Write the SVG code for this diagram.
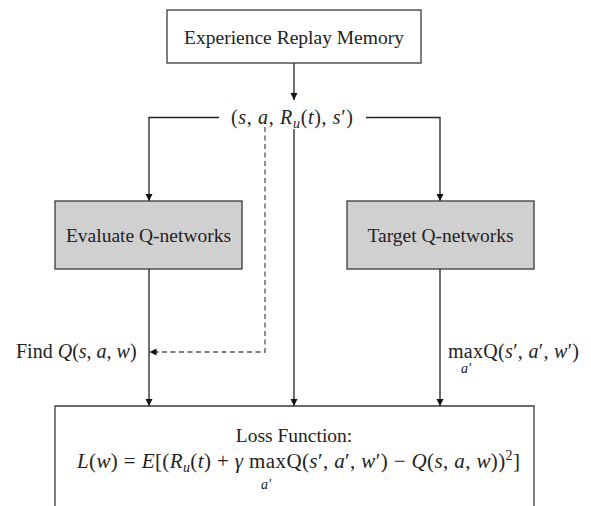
<svg xmlns="http://www.w3.org/2000/svg" width="591" height="506" viewBox="0 0 591 506">
<style>
.box{fill:#ffffff;stroke:#3a3a3a;stroke-width:1.3}
.gbox{fill:#d1d0d1;stroke:#3a3a3a;stroke-width:1.3}
.t{font-family:"Liberation Serif","Times New Roman",serif;font-size:19.5px;fill:#222}
.m{font-family:"Liberation Serif","Times New Roman",serif;font-size:20px;fill:#222}
.big{font-size:21px}
.i{font-style:italic}
.sub{font-size:14px}
.ln{fill:none;stroke:#222;stroke-width:1.3;marker-end:url(#ah)}
.dash{stroke-dasharray:5,3.5;stroke:#555}
</style>
<defs>
<marker id="ah" markerUnits="userSpaceOnUse" markerWidth="8" markerHeight="8" refX="7" refY="3.5" orient="auto">
<path d="M0,0 L7,3.5 L0,7 z" fill="#111"/>
</marker>
</defs>
<rect width="591" height="506" fill="#ffffff"/>
<g id="connectors">
<path class="ln" d="M294,63 V100"/>
<path class="ln" d="M219,117.5 H149 V201"/>
<path class="ln" d="M366,117.5 H440 V201"/>
<path class="ln" d="M294,129 V406"/>
<path class="ln dash" d="M265,127 V352 H149.5"/>
<path class="ln" d="M149,269 V406"/>
<path class="ln" d="M440,269 V406"/>
</g>
<g id="memory">
<rect class="box" x="167" y="10" width="254" height="53"/>
<text class="t" x="294" y="44" text-anchor="middle">Experience Replay Memory</text>
</g>
<g id="sample">
<text class="m" x="231" y="124" textLength="122" lengthAdjust="spacing">(<tspan class="i">s</tspan>, <tspan class="i">a</tspan>, <tspan class="i">R</tspan><tspan class="i sub" dy="4">u</tspan><tspan dy="-4">(</tspan><tspan class="i">t</tspan>), <tspan class="i">s</tspan>′)</text>
</g>
<g id="evaluate">
<rect class="gbox" x="55" y="201" width="187" height="68"/>
<text class="t" x="148.5" y="242" text-anchor="middle">Evaluate Q-networks</text>
</g>
<g id="target">
<rect class="gbox" x="347" y="201" width="187" height="68"/>
<text class="t" x="440.5" y="242" text-anchor="middle">Target Q-networks</text>
</g>
<g id="find-label">
<text class="m" x="16" y="358">Find <tspan class="i">Q</tspan>(<tspan class="i">s</tspan>, <tspan class="i">a</tspan>, <tspan class="i">w</tspan>)</text>
</g>
<g id="max-label">
<text class="m" x="448" y="358" textLength="131" lengthAdjust="spacing">maxQ(<tspan class="i">s</tspan>′, <tspan class="i">a</tspan>′, <tspan class="i">w</tspan>′)</text>
<text class="m i sub" x="461" y="373">a′</text>
</g>
<g id="loss">
<path class="box" d="M55,520 V406 H534 V520"/>
<text class="t" x="294" y="442" text-anchor="middle">Loss Function:</text>
<text class="m big" x="77" y="468" textLength="443" lengthAdjust="spacing"><tspan class="i">L</tspan>(<tspan class="i">w</tspan>) = <tspan class="i">E</tspan>[(<tspan class="i">R</tspan><tspan class="i sub" dy="4">u</tspan><tspan dy="-4">(</tspan><tspan class="i">t</tspan>) + <tspan class="i">γ</tspan> maxQ(<tspan class="i">s</tspan>′, <tspan class="i">a</tspan>′, <tspan class="i">w</tspan>′) − <tspan class="i">Q</tspan>(<tspan class="i">s</tspan>, <tspan class="i">a</tspan>, <tspan class="i">w</tspan>))<tspan class="sub" dy="-8">2</tspan><tspan dy="8">]</tspan></text>
<text class="m i sub" x="261" y="489">a′</text>
</g>
</svg>
